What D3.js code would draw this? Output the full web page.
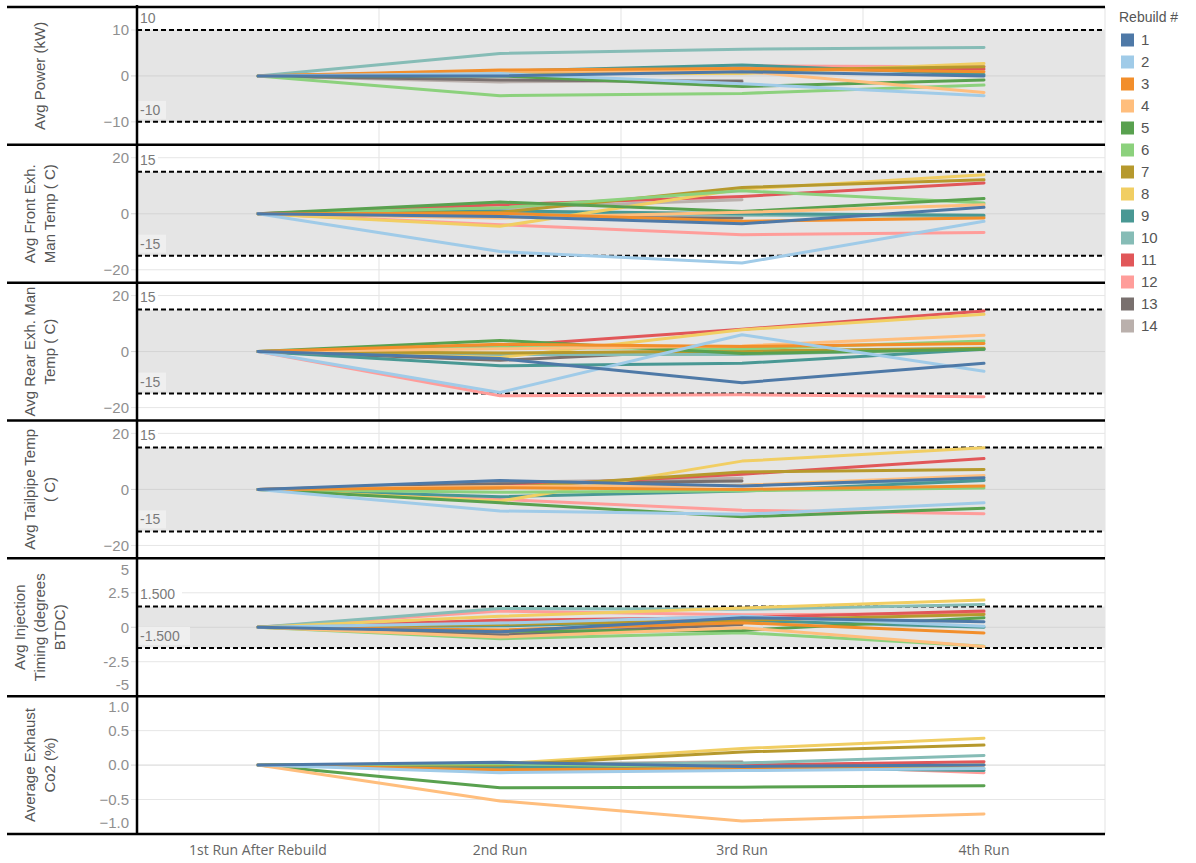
<!DOCTYPE html>
<html>
<head>
<meta charset="utf-8">
<script src="https://cdn.jsdelivr.net/npm/d3@7"></script>
<style>
  html, body { margin: 0; padding: 0; background: #fff; }
  svg { display: block; }
</style>
</head>
<body>
<svg id="chart" width="1196" height="863"></svg>
<script>
// Run stages along the x axis
const runs = ["1st Run After Rebuild", "2nd Run", "3rd Run", "4th Run"];
// Rebuild ids (one line each)
const rebuilds = ["1","2","3","4","5","6","7","8","9","10","11","12","13","14"];
const rebuildColors = ["#4e79a7","#a0cbe8","#f28e2b","#ffbe7d","#59a14f","#8cd17d","#b6992d",
                       "#f1ce63","#499894","#86bcb6","#e15759","#ff9d9a","#79706e","#bab0ac"];

// Change from first run, per rebuild (rows follow rebuilds order)
const powerValues = [
  [0, 0, 0.9, 0], [0, 0.5, -1.7, -4.3], [0, 1.3, 1.6, 0.9], [0, 1.0, 1.0, -3.6],
  [0, 0, -2.3, -0.9], [0, -4.3, -3.8, -2.0], [0, 0.8, 1.2, 2.0], [0, 0.5, 0.5, 2.7],
  [0, 1.0, 2.4, 0.3], [0, 4.9, 5.8, 6.2], [0, 0.6, 1.5, 1.5], [0, 0.7, 2.2, 2.0],
  [0, -0.9, -1.2, null], [0, -1.3, -1.0, null]
];
const frontExhValues = [
  [0, -1.0, -3.6, 2.3], [0, -13.5, -17.6, -2.7], [0, 0.2, -2.7, -1.5], [0, -1.5, 0.5, 3.2],
  [0, 4.2, 0.8, 5.4], [0, 2.1, 8.2, 3.8], [0, 0.5, 9.4, 12.1], [0, -4.5, 8.8, 13.9],
  [0, 1.0, 0, -0.5], [0, 0.5, -0.5, -1.0], [0, 3.2, 6.2, 11.0], [0, -3.9, -7.5, -6.7],
  [0, -1.2, -1.5, null], [0, 2.0, 5.0, null]
];
const rearExhValues = [
  [0, -2.5, -11.1, -4.2], [0, -14.6, 6.0, -7.0], [0, 2.6, 1.8, 2.9], [0, 1.0, 2.0, 5.8],
  [0, 4.0, -0.7, 0.8], [0, 1.5, 1.0, 3.8], [0, -0.5, 0.2, 1.2], [0, -2.1, 7.8, 13.3],
  [0, -5.1, -4.2, 0.8], [0, -1.0, -1.0, 1.0], [0, 2.0, 8.0, 14.5], [0, -15.8, -15.4, -16.1],
  [0, -3.1, 1.0, null], [0, -1.0, 0.5, null]
];
const tailpipeValues = [
  [0, 3.2, 1.2, 4.2], [0, -7.7, -8.9, -4.8], [0, 0.6, 0, 1.2], [0, 1.0, 1.5, 5.0],
  [0, -4.8, -9.8, -6.7], [0, -1.0, -0.5, 0.5], [0, 0.5, 6.2, 7.1], [0, -4.2, 10.1, 14.9],
  [0, -2.6, -0.6, 3.2], [0, 1.0, 1.5, 3.5], [0, 1.0, 5.4, 11.0], [0, -3.6, -7.4, -8.7],
  [0, 2.0, 3.0, null], [0, 2.5, 4.0, null]
];
const injectionValues = [
  [0, -0.33, 0.69, 0.4], [0, 0.3, 0.8, 0.08], [0, -0.2, 0.33, -0.42], [0, -0.71, -0.04, -1.39],
  [0, -0.3, -0.23, 0.69], [0, -0.83, -0.4, -1.37], [0, 0.2, 0.5, 0.93], [0, 0.8, 1.4, 1.97],
  [0, 0.1, 0.5, 0.0], [0, 1.36, 1.3, 1.65], [0, 0.5, 0.7, 1.17], [0, 1.17, 0.9, 1.0],
  [0, -0.57, 0.2, null], [0, -0.4, 0.3, null]
];
const co2Values = [
  [0, 0.04, -0.02, 0], [0, -0.11, -0.08, -0.05], [0, -0.07, -0.05, 0], [0, -0.52, -0.81, -0.71],
  [0, -0.33, -0.32, -0.30], [0, 0.02, -0.03, -0.05], [0, 0.0, 0.19, 0.29], [0, 0.02, 0.24, 0.39],
  [0, -0.03, -0.04, -0.08], [0, 0.0, 0.03, 0.14], [0, -0.02, 0.0, 0.05], [0, -0.05, 0.02, -0.11],
  [0, 0.0, 0.03, null], [0, 0.01, 0.05, null]
];

// Axis titles (one entry per text line)
const axisTitles = [
  ["Avg Power (kW)"],
  ["Avg Front Exh.", "Man Temp ( C)"],
  ["Avg Rear Exh. Man", "Temp ( C)"],
  ["Avg Tailpipe Temp", "( C)"],
  ["Avg Injection", "Timing (degrees", "BTDC)"],
  ["Average Exhaust", "Co2 (%)"]
];
const yDomains = [[-15, 15], [-24.6, 24.6], [-24.6, 24.6], [-24.6, 24.6], [-5, 5], [-1, 1]];
const yTicks = [[10, 0, -10], [20, 0, -20], [20, 0, -20], [20, 0, -20], [5, 2.5, 0, -2.5, -5], [1, 0.5, 0, -0.5, -1]];
const tickFormats = ["d", "d", "d", "d", "", ".1f"];
// Reference band limits and their labels
const refLimits = [10, 15, 15, 15, 1.5, null];
const refLabels = [["10", "-10"], ["15", "-15"], ["15", "-15"], ["15", "-15"], ["1.500", "-1.500"], null];

const panelData = [powerValues, frontExhValues, rearExhValues, tailpipeValues, injectionValues, co2Values];

const svg = d3.select("#chart");
const left = 137, right = 1105, top0 = 7, bottom = 834;
const panelH = (bottom - top0) / panelData.length;
const fontSans = "'Liberation Sans', Arial, sans-serif";

const x = d3.scaleBand().domain(runs).range([left, right]).paddingInner(0).paddingOuter(0);
const xc = r => x(r) + x.bandwidth() / 2;

// vertical grid at band edges
const vGrid = svg.append("g");
runs.forEach((r, i) => {
  if (i === 0) return;
  vGrid.append("line").attr("x1", x(r)).attr("x2", x(r)).attr("y1", top0).attr("y2", bottom)
    .attr("stroke", "#e3e3e3").attr("stroke-width", 1);
});
vGrid.append("line").attr("x1", right).attr("x2", right).attr("y1", top0).attr("y2", bottom)
  .attr("stroke", "#e3e3e3").attr("stroke-width", 1);

panelData.forEach((vals, p) => {
  const pt = top0 + p * panelH, pb = pt + panelH;
  const y = d3.scaleLinear().domain(yDomains[p]).range([pb, pt]);
  const g = svg.append("g");

  // reference band
  const lim = refLimits[p];
  if (lim !== null) {
    g.append("rect").attr("x", left).attr("width", right - left)
      .attr("y", y(lim)).attr("height", y(-lim) - y(lim)).attr("fill", "#e5e5e5");
  }

  // horizontal grid lines + tick labels
  const fmt = tickFormats[p] ? d3.format(tickFormats[p]) : (v => String(v));
  yTicks[p].forEach(t => {
    const yy = y(t);
    if (yy > pt + 1 && yy < pb - 1) {
      g.append("line").attr("x1", left - 6).attr("x2", right).attr("y1", yy).attr("y2", yy)
        .attr("stroke", t === 0 ? "#d4d4d4" : "#e6e6e6").attr("stroke-width", 1);
    }
    const ly = Math.max(pt + 11, Math.min(pb - 11, yy));
    g.append("text").attr("x", 129).attr("y", ly).attr("dy", "0.35em")
      .attr("text-anchor", "end").attr("font-family", fontSans).attr("font-size", 15)
      .attr("fill", "#8f8f8f").text(fmt(t));
  });

  // dashed reference lines and labels
  if (lim !== null) {
    [lim, -lim].forEach((v, k) => {
      g.append("line").attr("x1", left).attr("x2", right).attr("y1", y(v)).attr("y2", y(v))
        .attr("stroke", "#000").attr("stroke-width", 2).attr("stroke-dasharray", "5,3");
      const lbl = refLabels[p][k];
      const ty = y(v) - 12;
      const w = lbl.length * 8 + 4;
      g.append("rect").attr("x", left + 1).attr("y", ty - 9).attr("width", w).attr("height", 18)
        .attr("fill", k === 0 ? "#ffffff" : "#efefef");
      g.append("text").attr("x", left + 3).attr("y", ty).attr("dy", "0.35em")
        .attr("font-family", fontSans).attr("font-size", 14).attr("fill", "#7a7a7a").text(lbl);
    });
  }

  // series lines, first rebuild drawn on top
  const line = d3.line().defined(d => d.v !== null).x(d => xc(d.run)).y(d => y(d.v));
  for (let i = rebuilds.length - 1; i >= 0; i--) {
    const pts = runs.map((r, j) => ({ run: r, v: vals[i][j] }));
    g.append("path").datum(pts).attr("d", line).attr("fill", "none")
      .attr("stroke", rebuildColors[i]).attr("stroke-width", 3)
      .attr("stroke-linejoin", "round").attr("stroke-linecap", "round");
  }

  // axis title
  const lines = axisTitles[p];
  const cy = (pt + pb) / 2;
  const lh = 20;
  lines.forEach((t, k) => {
    const cx = 40 + (k - (lines.length - 1) / 2) * lh;
    g.append("text").attr("transform", `translate(${cx + 5},${cy}) rotate(-90)`)
      .attr("text-anchor", "middle").attr("font-family", fontSans).attr("font-size", 15)
      .attr("fill", "#555").text(t);
  });
});

// panel dividers and left axis line
for (let p = 0; p <= panelData.length; p++) {
  const yy = top0 + p * panelH;
  svg.append("line").attr("x1", 7).attr("x2", right).attr("y1", yy).attr("y2", yy)
    .attr("stroke", "#000").attr("stroke-width", 2.5);
}
svg.append("line").attr("x1", left).attr("x2", left).attr("y1", 5).attr("y2", bottom)
  .attr("stroke", "#000").attr("stroke-width", 2.5);

// x axis labels
runs.forEach(r => {
  svg.append("text").attr("x", xc(r)).attr("y", 850).attr("dy", "0.35em")
    .attr("text-anchor", "middle").attr("font-family", "'Open Sans', sans-serif")
    .attr("font-size", 14).attr("fill", "#666").text(r);
});

// legend
const lg = svg.append("g");
lg.append("text").attr("x", 1119).attr("y", 17).attr("dy", "0.35em")
  .attr("font-family", fontSans).attr("font-size", 14).attr("fill", "#555").text("Rebuild #");
rebuilds.forEach((r, i) => {
  const cy = 40 + i * 22;
  lg.append("rect").attr("x", 1121).attr("y", cy - 6.5).attr("width", 13).attr("height", 13)
    .attr("fill", rebuildColors[i]);
  lg.append("text").attr("x", 1141).attr("y", cy).attr("dy", "0.35em")
    .attr("font-family", fontSans).attr("font-size", 15).attr("fill", "#555").text(r);
});
</script>
</body>
</html>
